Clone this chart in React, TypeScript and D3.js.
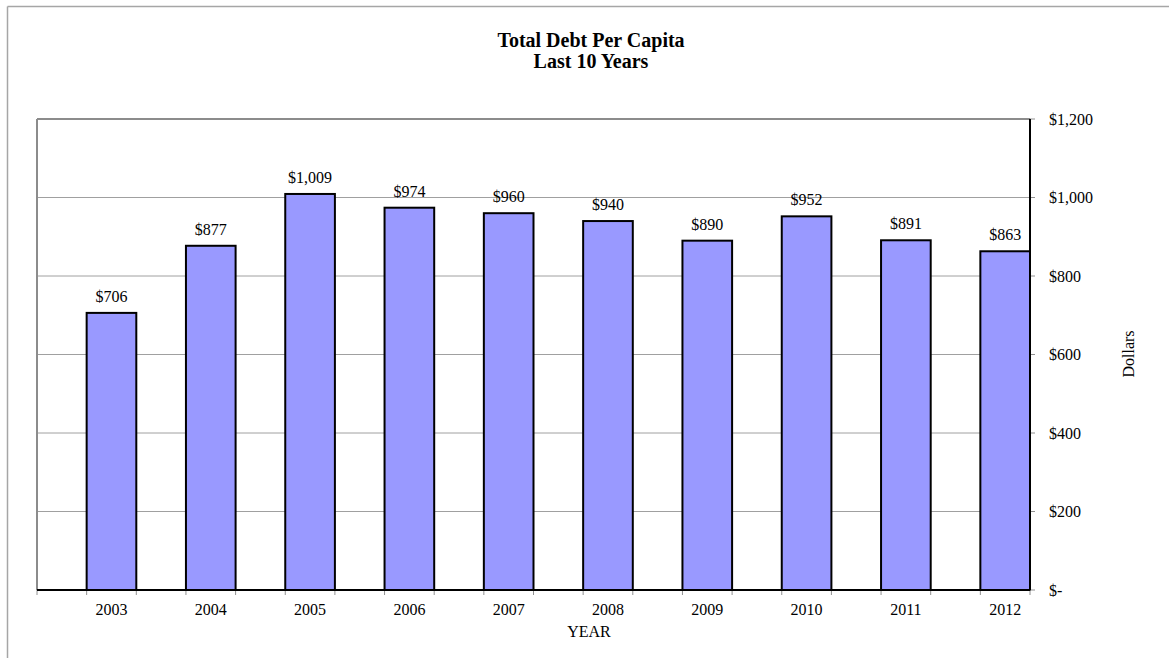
import React from "react";
import * as d3 from "d3";

const years = ["2003", "2004", "2005", "2006", "2007", "2008", "2009", "2010", "2011", "2012"];
const debtPerCapita = [706, 877, 1009, 974, 960, 940, 890, 952, 891, 863];
const yTicks = [0, 200, 400, 600, 800, 1000, 1200];
const titleLines = ["Total Debt Per Capita", "Last 10 Years"];

const W = 1169;
const H = 658;
const plot = { left: 37, right: 1030, top: 119, bottom: 590 };
const FONT = "'Liberation Serif', 'Times New Roman', serif";

const fmtMoney = (v: number) => (v === 0 ? "$-" : "$" + d3.format(",")(v));

export default function App() {
  const x = d3.scaleBand<string>().domain(years).range([plot.left, plot.right]).padding(0);
  const y = d3.scaleLinear().domain([0, 1200]).range([plot.bottom, plot.top]);
  const bw = x.bandwidth();

  const xTickPositions: number[] = [];
  years.forEach((yr) => {
    xTickPositions.push(x(yr)!);
    xTickPositions.push(x(yr)! + bw / 2);
  });
  xTickPositions.push(plot.right);

  return (
    <svg
      width={W}
      height={H}
      style={{ position: "fixed", left: 0, top: 0, background: "#fff" }}
      fontFamily={FONT}
    >
      <rect x={0} y={0} width={W} height={H} fill="#fff" />
      {/* outer chart border */}
      <line x1={7.5} y1={6.5} x2={W} y2={6.5} stroke="#a6a6a6" strokeWidth={1.5} />
      <line x1={7.5} y1={6.5} x2={7.5} y2={H} stroke="#a6a6a6" strokeWidth={1.5} />

      {/* title */}
      <text x={591} y={47} textAnchor="middle" fontSize={20} fontWeight="bold" fill="#000">
        {titleLines[0]}
      </text>
      <text x={591} y={68} textAnchor="middle" fontSize={20} fontWeight="bold" fill="#000">
        {titleLines[1]}
      </text>

      {/* gridlines */}
      {yTicks.slice(1, -1).map((t) => (
        <line key={t} x1={plot.left} x2={plot.right} y1={y(t)} y2={y(t)} stroke="#a0a0a0" strokeWidth={1} />
      ))}
      {/* plot area border top/left */}
      <line x1={plot.left} x2={plot.right} y1={plot.top} y2={plot.top} stroke="#8c8c8c" strokeWidth={2} />
      <line x1={plot.left} x2={plot.left} y1={plot.top} y2={plot.bottom} stroke="#8c8c8c" strokeWidth={2} />

      {/* bars */}
      {years.map((yr, i) => (
        <rect
          key={yr}
          x={x(yr)! + bw / 2}
          y={y(debtPerCapita[i])}
          width={bw / 2}
          height={y(0) - y(debtPerCapita[i])}
          fill="#9999ff"
          stroke="#000"
          strokeWidth={2}
        />
      ))}

      {/* value labels */}
      {years.map((yr, i) => (
        <text
          key={yr}
          x={x(yr)! + (bw * 3) / 4}
          y={y(debtPerCapita[i]) - 11}
          textAnchor="middle"
          fontSize={16}
          fill="#000"
        >
          {fmtMoney(debtPerCapita[i])}
        </text>
      ))}

      {/* x axis */}
      {xTickPositions.map((p, i) => (
        <line key={i} x1={p} x2={p} y1={plot.bottom} y2={plot.bottom + 5} stroke="#909090" strokeWidth={1} />
      ))}
      <line x1={plot.left} x2={plot.right} y1={plot.bottom} y2={plot.bottom} stroke="#000" strokeWidth={2} />
      {years.map((yr) => (
        <text key={yr} x={x(yr)! + (bw * 3) / 4} y={615} textAnchor="middle" fontSize={16} fill="#000">
          {yr}
        </text>
      ))}
      <text x={589} y={637} textAnchor="middle" fontSize={16} fill="#000">
        YEAR
      </text>

      {/* right y axis */}
      {yTicks.map((t) => (
        <line key={t} x1={plot.right} x2={plot.right + 5} y1={y(t)} y2={y(t)} stroke="#909090" strokeWidth={1} />
      ))}
      <line x1={plot.right} x2={plot.right} y1={plot.top} y2={plot.bottom} stroke="#000" strokeWidth={2} />
      {yTicks.map((t) => (
        <text key={t} x={1049} y={y(t) + 5.5} fontSize={16} fill="#000">
          {fmtMoney(t)}
        </text>
      ))}
      <text
        transform={`translate(1134, 354) rotate(-90)`}
        textAnchor="middle"
        fontSize={16}
        fill="#000"
      >
        Dollars
      </text>
    </svg>
  );
}
